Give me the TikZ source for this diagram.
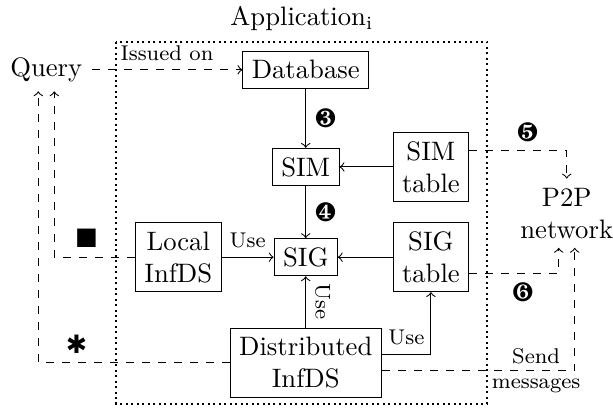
\documentclass[tikz,border=0pt]{standalone}
\usepackage{amsmath}
\usepackage{amssymb}
\usepackage{pifont}
\usepackage{tikz}

\begin{document}
\begin{tikzpicture}[appframe/.style={line width=0.75pt, dash pattern=on 0.75pt off 1.3pt}]
		\useasboundingbox (0,0) rectangle (8.08,-5.40);

		% Application frame
		\draw [appframe] (1.53,-0.55) rectangle (6.42,-5.32);
		\node (app) at (3.98,-0.24) {Application$_\text{i}$};

		% Outside nodes
		\node (query) at (0.61,-0.92) {Query};
		\node (p2p) at (7.47,-2.81) [align=center] {P2P\\network};

		% Boxes
		\begin{scope}[every node/.style={draw,align=center}]
			\node (db) at (4.03,-0.92) {Database};
			\node (sim) at (4.03,-2.20) {SIM};
			\node (simtab) at (5.68,-2.20) {SIM\\table};
			\node (sig) at (4.03,-3.39) {SIG};
			\node (sigtab) at (5.68,-3.39) {SIG\\table};
			\node (local) at (2.35,-3.39) {Local\\InfDS};
			\node (dist) at (4.03,-4.78) {Distributed\\InfDS};
		\end{scope}

		% Arrows
		\path [->] (db) edge node [right] {\ding{184}} (sim);
		\path [->] (simtab) edge (sim);
		\path [->] (sim) edge node [right] {\ding{185}} (sig);
		\path [->] (sigtab) edge (sig);
		\path [->] (local) edge node [above, font=\footnotesize] {Use} (sig);
		\path [->] (dist) edge node [rotate=-90, anchor=south, font=\footnotesize] {Use} (sig);
		\draw [->] ([yshift=3pt]dist.east) -| node [pos=0.25, above, font=\footnotesize] {Use} (sigtab);

		% Dashed arrows
		\draw [->, dashed] (query) -- node [above, font=\footnotesize] {Issued on} (db);
		\draw [->, dashed] (local.west) -| node [pos=0.3, above] {\ding{110}} ([xshift=3pt]query.south);
		\draw [->, dashed] (dist.west) -| node [pos=0.4, above] {\ding{81}} ([xshift=-3pt]query.south);
		\draw [->, dashed] ([yshift=6pt]simtab.east) -| node [pos=0.3, above] {\ding{186}} (p2p.north);
		\draw [->, dashed] ([yshift=-6pt]sigtab.east) -| node [pos=0.3, below] {\ding{187}} ([xshift=-3pt]p2p.south);
		\draw [->, dashed] ([yshift=-3pt]dist.east) -| node [pos=0.4, align=center, font=\footnotesize] {Send\\messages} ([xshift=3pt]p2p.south);

	\end{tikzpicture}
\end{document}
